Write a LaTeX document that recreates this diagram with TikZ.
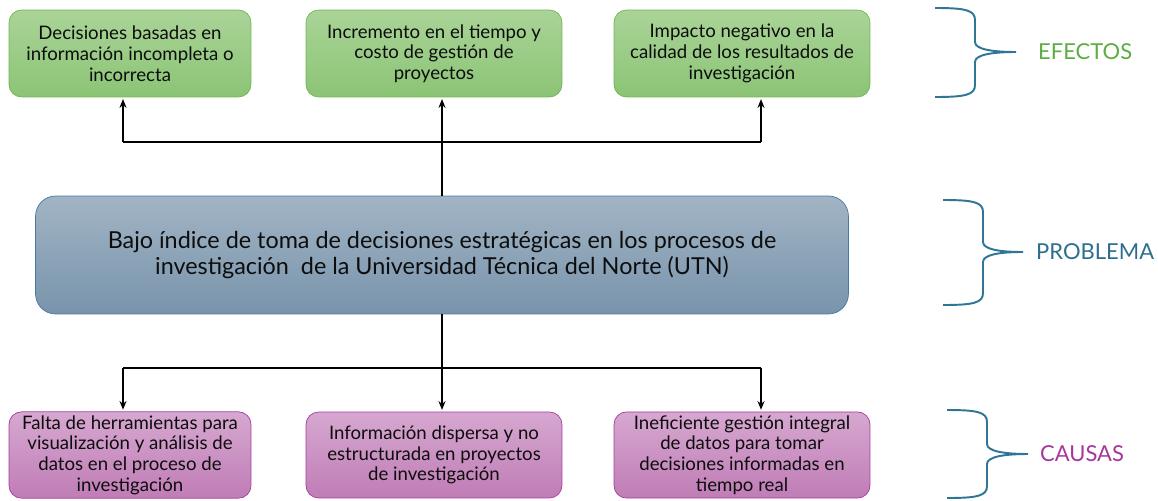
\documentclass[tikz,border=0pt]{standalone}
\usepackage{fontspec}
\setmainfont{Lato}
\usepackage{tikz}
\usetikzlibrary{arrows.meta}

\definecolor{verdeA}{RGB}{170,212,152}
\definecolor{verdeB}{RGB}{139,196,117}
\definecolor{verdeBorde}{RGB}{112,180,80}
\definecolor{azulA}{RGB}{162,180,196}
\definecolor{azulB}{RGB}{120,148,172}
\definecolor{azulBorde}{RGB}{70,120,160}
\definecolor{rosaA}{RGB}{214,168,208}
\definecolor{rosaB}{RGB}{192,124,182}
\definecolor{rosaBorde}{RGB}{165,60,155}
\definecolor{llaveColor}{RGB}{46,117,150}
\definecolor{txtEfectos}{RGB}{92,174,68}
\definecolor{txtProblema}{RGB}{45,110,142}
\definecolor{txtCausas}{RGB}{165,55,155}

\newcommand{\llave}[6]{\draw[llave] (#1,#4) .. controls +(30,0) and +(0,-10) .. (#2,{#4+12}) -- (#2,{#5-10}) .. controls +(0,7) and +(-25,0) .. (#3,#5) .. controls +(-25,0) and +(0,-7) .. (#2,{#5+10}) -- (#2,{#6-12}) .. controls +(0,10) and +(30,0) .. (#1,#6);}

\begin{document}
\begin{tikzpicture}[
   x=0.02cm, y=-0.02cm,
   caja/.style={rounded corners=0.25cm, align=center, inner sep=2pt, text=black!95,
      font=\fontsize{10.6}{11.8}\selectfont},
   efecto/.style={caja, draw=verdeBorde, top color=verdeA, bottom color=verdeB, minimum height=1.74cm},
   causa/.style={caja, draw=rosaBorde, top color=rosaA, bottom color=rosaB, minimum height=1.72cm},
   problema/.style={caja, draw=azulBorde, top color=azulA, bottom color=azulB, rounded corners=0.4cm,
      minimum width=16.26cm, minimum height=2.36cm, font=\fontsize{13.3}{15}\selectfont},
   linea/.style={thick},
   flecha/.style={thick, -{Stealth[length=5pt,width=4pt]}, shorten >=1pt},
   llave/.style={line width=1.1pt, draw=llaveColor},
   etiqueta/.style={anchor=west, font=\fontsize{12.5}{14}\selectfont}]
\useasboundingbox (0,0) rectangle (1158,500);
\node[efecto, minimum width=4.84cm] (E1) at (130,53.5) {Decisiones basadas en\\información incompleta o\\incorrecta};
\node[efecto, minimum width=5.12cm] (E2) at (434,53.5) {Incremento en el tiempo y\\costo de gestión de\\proyectos};
\node[efecto, minimum width=5.12cm] (E3) at (742,53.5) {Impacto negativo en la\\calidad de los resultados de\\investigación};
\node[problema] (P) at (442,255) {Bajo índice de toma de decisiones estratégicas en los procesos de\\investigación \ de la Universidad Técnica del Norte (UTN)};
\node[causa, minimum width=4.84cm] (C1) at (130,455) {Falta de herramientas para\\visualización y análisis de\\datos en el proceso de\\investigación};
\node[causa, minimum width=5.12cm] (C2) at (434,455) {Información dispersa y no\\estructurada en proyectos\\de investigación};
\node[causa, minimum width=5.12cm] (C3) at (742,455) {Ineficiente gestión integral\\de datos para tomar\\decisiones informadas en\\tiempo real};
\coordinate (sup1) at (123,142);
\coordinate (sup3) at (761,142);
\coordinate (inf1) at (123,368);
\coordinate (inf3) at (761,368);
\draw[linea] (sup1) -- (sup3);
\draw[flecha] (sup1) -- (sup1 |- E1.south);
\draw[flecha] (P.north) -- (P.north |- E2.south);
\draw[flecha] (sup3) -- (sup3 |- E3.south);
\draw[linea] (P.south) -- (P.south |- inf1);
\draw[linea] (inf1) -- (inf3);
\draw[flecha] (inf1) -- (inf1 |- C1.north);
\draw[flecha] (P.south |- inf1) -- (P.south |- C2.north);
\draw[flecha] (inf3) -- (inf3 |- C3.north);
\llave{935}{975}{1016}{8}{52}{97}
\llave{943}{983}{1023}{200}{252}{305}
\llave{947}{987}{1028}{410}{454}{498}
\node[etiqueta, text=txtEfectos] (efectos) at (1032,52) {EFECTOS};
\node[etiqueta, text=txtProblema] (problema) at (1030,252) {PROBLEMA};
\node[etiqueta, text=txtCausas] (causas) at (1034,454) {CAUSAS};
\end{tikzpicture}
\end{document}
